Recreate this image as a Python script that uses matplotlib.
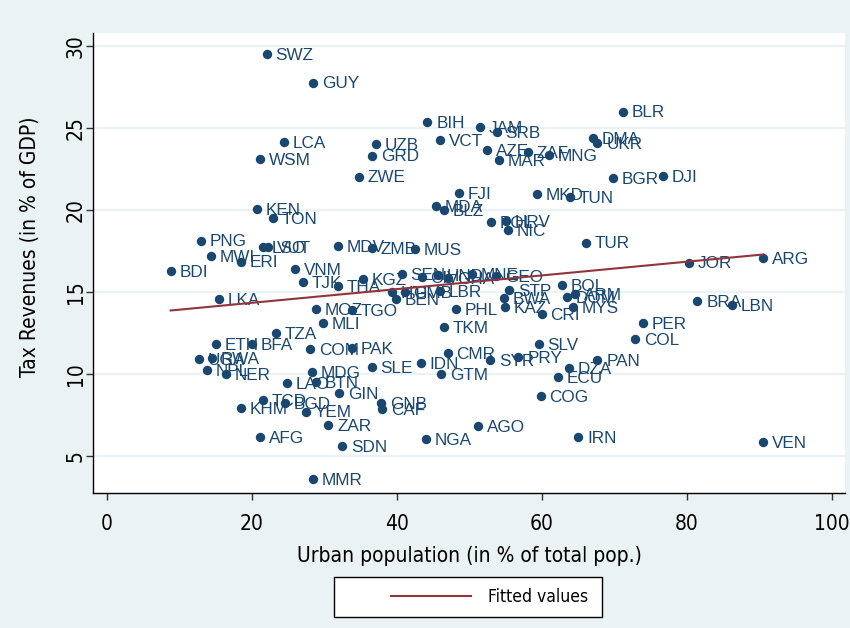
import numpy as np
import matplotlib
matplotlib.use("Agg")
from matplotlib import pyplot as plt
from matplotlib import font_manager
from matplotlib.font_manager import FontProperties
from matplotlib.patches import Rectangle

# country codes, urban population share (%) and tax revenue (% of GDP)
countries = ["SWZ", "GUY", "LCA", "WSM", "KEN", "TON", "BIH", "JAM", "SRB", "UZB",
             "VCT", "GRD", "AZE", "ZAF", "MNG", "MAR", "ZWE", "FJI", "MKD", "TUN",
             "MDA", "BLZ", "POL", "HRV", "NIC", "MDV", "ZMB", "MUS", "TUR", "BLR",
             "DMA", "UKR", "BGR", "DJI", "JOR", "ARG", "PNG", "MWI", "BDI", "ERI",
             "LSO", "VUT", "VNM", "TJK", "THA", "KGZ", "LKA", "MOZ", "TGO", "MLI",
             "TZA", "ETH", "BFA", "COM", "PAK", "UGA", "RWA", "NPL", "NER", "MDG",
             "LAO", "BTN", "GIN", "SLE", "TCD", "BGD", "KHM", "YEM", "ZAR", "AFG",
             "SDN", "MMR", "GNB", "CAF", "IDN", "CMR", "GTM", "SYR", "PRY", "SLV",
             "DZA", "PAN", "ECU", "COG", "AGO", "NGA", "IRN", "VEN", "TKM", "PHL",
             "BEN", "SEN", "CIV", "HND", "GHA", "MNE", "GEO", "LBR", "GMB", "HTI",
             "STP", "BWA", "KAZ", "CRI", "BOL", "DOM", "ARM", "MYS", "PER", "COL",
             "BRA", "LBN"]
urban = [22.06, 28.48, 24.48, 21.13, 20.68, 22.92, 44.21, 51.48, 53.78, 37.13,
         45.96, 36.58, 52.40, 58.06, 61.03, 54.10, 34.79, 48.62, 59.30, 63.89,
         45.37, 46.55, 52.99, 55.06, 55.30, 31.89, 36.58, 42.51, 66.10, 71.16,
         67.10, 67.66, 69.78, 76.68, 80.34, 90.55, 12.99, 14.37, 8.81, 18.47,
         21.59, 22.28, 25.96, 27.10, 31.85, 35.38, 15.48, 28.86, 33.82, 29.78,
         23.30, 15.06, 19.99, 28.03, 33.78, 12.76, 14.47, 13.78, 16.44, 28.34,
         24.90, 28.86, 32.03, 36.54, 21.50, 24.58, 18.47, 27.48, 30.55, 21.13,
         32.48, 28.48, 37.82, 37.96, 43.30, 47.02, 46.10, 52.86, 56.76, 59.57,
         63.79, 67.66, 62.19, 59.85, 51.16, 43.99, 65.03, 90.55, 46.55, 48.17,
         39.89, 40.68, 43.43, 45.72, 47.10, 50.33, 53.68, 45.96, 41.10, 39.34,
         55.52, 54.79, 54.92, 59.96, 62.79, 63.43, 64.58, 64.26, 73.92, 72.86,
         81.45, 86.19]
tax = [29.49, 27.75, 24.11, 23.08, 20.05, 19.50, 25.33, 25.03, 24.72, 23.99,
       24.25, 23.30, 23.64, 23.52, 23.32, 23.03, 22.02, 21.04, 20.94, 20.76,
       20.25, 19.99, 19.27, 19.29, 18.77, 17.79, 17.65, 17.59, 18.00, 25.98,
       24.36, 24.09, 21.92, 22.08, 16.78, 17.04, 18.12, 17.18, 16.27, 16.84,
       17.71, 17.71, 16.39, 15.58, 15.37, 15.76, 14.55, 13.94, 13.89, 13.08,
       12.47, 11.82, 11.82, 11.50, 11.56, 10.89, 10.95, 10.24, 10.00, 10.13,
       9.43, 9.51, 8.82, 10.40, 8.41, 8.21, 7.90, 7.70, 6.89, 6.17,
       5.61, 3.58, 8.21, 7.84, 10.65, 11.26, 9.99, 10.85, 11.05, 11.82,
       10.38, 10.85, 9.79, 8.65, 6.84, 6.03, 6.14, 5.87, 12.84, 13.95,
       14.56, 16.09, 15.92, 16.03, 15.83, 16.09, 15.97, 15.05, 14.99, 14.97,
       15.11, 14.61, 14.09, 13.65, 15.42, 14.67, 14.87, 14.06, 13.12, 12.13,
       14.46, 14.20]

x = np.array(urban)
y = np.array(tax)

# linear fit over the observed range
slope, intercept = np.polyfit(x, y, 1)
fit_x = np.array([x.min(), x.max()])
fit_y = intercept + slope * fit_x


def narrow_font(size):
    # prefer a condensed sans face for axis text, else plain Liberation Sans
    fonts = font_manager.fontManager.ttflist
    for f in fonts:
        if f.name == "Liberation Sans Narrow" and f.weight in (400, "normal") and f.style == "normal":
            return FontProperties(fname=f.fname, size=size)
    for f in fonts:
        if ("Condensed" in f.name or f.stretch in ("condensed", "semi-condensed")) \
                and f.style == "normal" and f.weight in (400, "normal"):
            return FontProperties(fname=f.fname, size=size)
    return FontProperties(family="Liberation Sans", size=size)


navy = "#1a476f"
maroon = "#90353b"
bg = "#eaf2f3"

fig = plt.figure(figsize=(8.5, 6.28), dpi=100, facecolor=bg)
ax = fig.add_axes([93 / 850, 1 - 493 / 628, (845 - 93) / 850, (493 - 33) / 628])
ax.set_facecolor("white")

ax.scatter(x, y, s=46, color=navy, linewidths=0, zorder=3)
for name, xi, yi in zip(countries, x, y):
    ax.annotate(name, (xi, yi), xytext=(6.3, -1.0), textcoords="offset points",
                ha="left", va="center", fontsize=12.3, color=navy,
                family="Liberation Sans", zorder=4)
ax.plot(fit_x, fit_y, color=maroon, lw=1.5, zorder=5)

ax.set_xlim(-1.9, 101.8)
ax.set_ylim(2.74, 30.77)
ax.set_xticks(np.arange(0, 101, 20))
ax.set_yticks(np.arange(5, 31, 5))
ax.grid(axis="y", color=bg, lw=1.6, zorder=0)
ax.set_axisbelow(True)

for side in ("top", "right"):
    ax.spines[side].set_visible(False)
for side in ("left", "bottom"):
    ax.spines[side].set_color("black")
    ax.spines[side].set_linewidth(1.0)

ax.tick_params(axis="both", direction="out", length=5, width=1.0, color="#333333")
ax.tick_params(axis="x", pad=10)
ax.tick_params(axis="y", pad=0)
tick_fp = narrow_font(15)
for lab in ax.get_xticklabels() + ax.get_yticklabels():
    lab.set_fontproperties(tick_fp)
for lab in ax.get_yticklabels():
    lab.set_rotation(90)
    lab.set_va("center")

title_fp = narrow_font(15)
ax.set_xlabel("Urban population (in % of total pop.)", fontproperties=title_fp)
ax.xaxis.set_label_coords(0.5, -(556 - 493) / 460, transform=ax.transAxes)
ax.xaxis.label.set_va("center")
ax.set_ylabel("Tax Revenues (in % of GDP)", fontproperties=title_fp)
ax.yaxis.set_label_coords(-(93 - 30) / 752, (493 - 247) / 460)
ax.yaxis.label.set_va("center")

# legend box below the axis title
fig.patches.append(Rectangle((334 / 850, 1 - 617 / 628), (602 - 334) / 850, 40 / 628,
                             transform=fig.transFigure, facecolor="white",
                             edgecolor="black", lw=1.0, zorder=0))
fig.legend(ax.get_lines(), ["Fitted values"], loc="center left",
           bbox_to_anchor=(391 / 850, 1 - 597 / 628), frameon=False,
           borderpad=0, borderaxespad=0, handlelength=4.6, handletextpad=1.0,
           prop=narrow_font(12.5))

fig.savefig("out.png", dpi=100, facecolor=bg)
